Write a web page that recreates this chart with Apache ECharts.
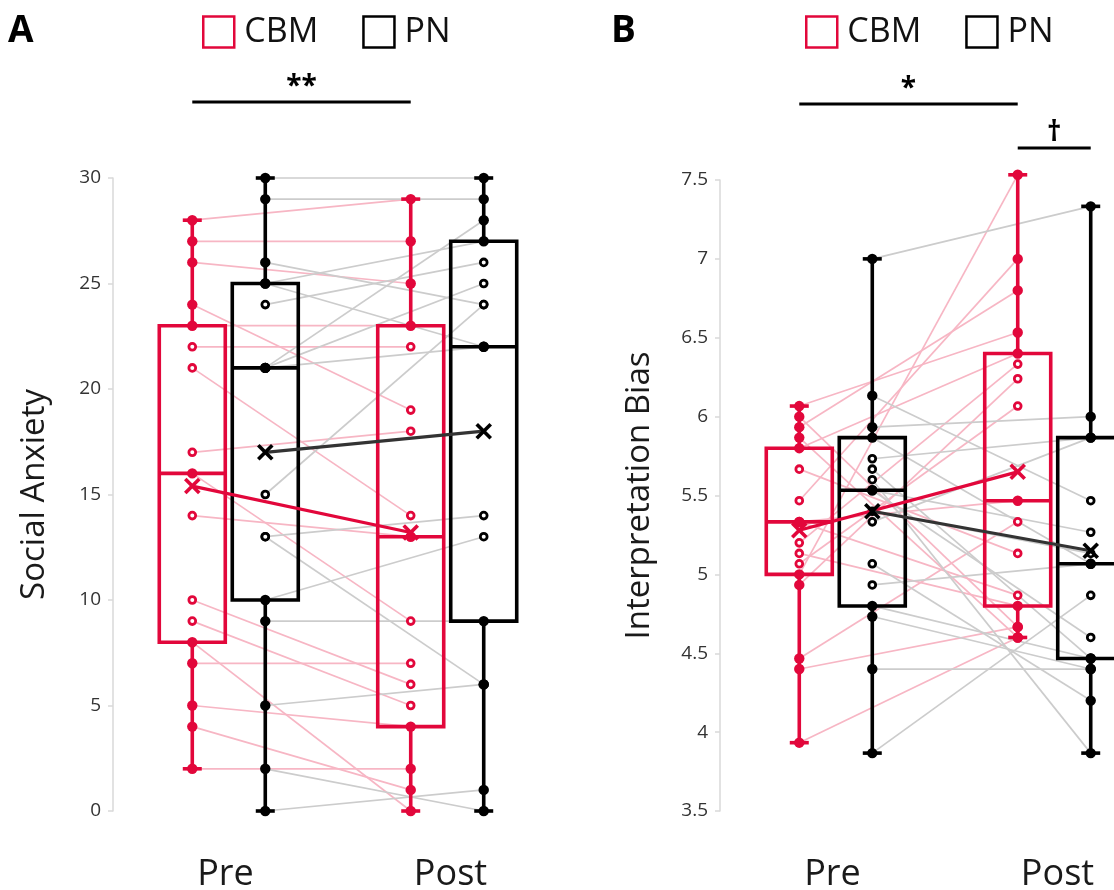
<!DOCTYPE html>
<html><head><meta charset="utf-8">
<script src="https://cdn.jsdelivr.net/npm/echarts@6/dist/echarts.min.js"></script>
<style>html,body{margin:0;padding:0;background:#fff}#c{width:1114px;height:890px}</style>
</head><body><div id="c"></div>
<script>
// ---------- data ----------
const phases = ['Pre', 'Post'];
const groups = ['CBM', 'PN'];

// Panel A: Social Anxiety, one entry per participant (pre, post)
const anxietyCbmPre  = [28,27,26,24,23,22,21,17,16,14,10,9,8,7,5,4,2];
const anxietyCbmPost = [29,27,25,19,23,22,14,18,9,13,6,5,0,7,4,1,2];
const anxietyPnPre   = [30,29,26,25,25,24,21,21,21,15,13,13,10,9,5,2,0];
const anxietyPnPost  = [30,29,24,27,22,26,28,25,22,24,14,6,13,9,6,0,1];
// box statistics [min, Q1, median, Q3, max]
const anxietyCbmBoxPre  = [2,8,16,23,28];
const anxietyCbmBoxPost = [0,4,13,23,29];
const anxietyPnBoxPre   = [0,10,21,25,30];
const anxietyPnBoxPost  = [0,9,22,27,30];
const anxietyCbmMean = [15.4, 13.2];
const anxietyPnMean  = [17.0, 18.0];
const anxietyTicks = {min: 0, max: 30, interval: 5};

// Panel B: Interpretation Bias
const biasCbmPre  = [6.067,6.0,5.933,5.867,5.8,5.667,5.467,5.333,5.333,5.2,5.133,5.067,5.0,4.933,4.467,4.4,3.933];
const biasCbmPost = [6.533,4.667,6.8,4.6,6.4,5.133,7.0,5.467,4.867,6.333,4.8,6.067,7.533,6.24,5.333,4.667,4.6];
const biasPnPre   = [7.0,6.133,5.933,5.867,5.733,5.667,5.6,5.533,5.533,5.4,5.333,5.067,4.933,4.8,4.733,4.4,3.867];
const biasPnPost  = [7.333,5.467,6.0,5.067,5.867,4.467,3.867,5.267,4.6,5.133,5.867,4.2,5.067,4.467,4.4,4.4,4.867];
const biasCbmBoxPre  = [3.933,5.0,5.333,5.8,6.067];
const biasCbmBoxPost = [4.6,4.8,5.467,6.4,7.533];
const biasPnBoxPre   = [3.867,4.8,5.533,5.867,7.0];
const biasPnBoxPost  = [3.867,4.467,5.067,5.867,7.333];
const biasCbmMean = [5.28, 5.65];
const biasPnMean  = [5.40, 5.15];
const biasTicks = {min: 3.5, max: 7.5, interval: 0.5};

// significance annotations: [label, fromGroup, fromPhase, toGroup, toPhase, tier]
const sigA = [['**', 'CBM', 'Pre', 'CBM', 'Post', 0]];
const sigB = [['*', 'CBM', 'Pre', 'CBM', 'Post', 0], ['\u2020', 'CBM', 'Post', 'PN', 'Post', 1]];

// ---------- style ----------
const FONT = 'Open Sans';
const RED = '#e2073b', BLACK = '#000000', PINK = '#f7b6c4', GREY = '#cccccc', DARK = '#333333';
const COLOR = {CBM: RED, PN: BLACK};
const PAIR = {CBM: PINK, PN: GREY};
const MEANLINE = {CBM: RED, PN: DARK};
const OFFSET = {CBM: -36.5, PN: 36.5};
const BOX_HALF = 33, CAP_HALF = 9.5, LW = 3.6;
const TIER_PX = [76, 32];

const panels = [
  {name: 'Social Anxiety', ticks: anxietyTicks,
   CBM: {pre: anxietyCbmPre, post: anxietyCbmPost, box: [anxietyCbmBoxPre, anxietyCbmBoxPost], mean: anxietyCbmMean},
   PN:  {pre: anxietyPnPre,  post: anxietyPnPost,  box: [anxietyPnBoxPre,  anxietyPnBoxPost],  mean: anxietyPnMean},
   sig: sigA},
  {name: 'Interpretation Bias', ticks: biasTicks,
   CBM: {pre: biasCbmPre, post: biasCbmPost, box: [biasCbmBoxPre, biasCbmBoxPost], mean: biasCbmMean},
   PN:  {pre: biasPnPre,  post: biasPnPost,  box: [biasPnBoxPre,  biasPnBoxPost],  mean: biasPnMean},
   sig: sigB}
];

function phaseX(ph) { return phases.indexOf(ph) + 1; }

function buildSeries(p, gi) {
  const ax = {xAxisIndex: gi * 2, yAxisIndex: gi, coordinateSystem: 'cartesian2d', clip: false, silent: true};
  const out = [];
  // paired participant lines
  groups.forEach(g => {
    out.push(Object.assign({type: 'custom', name: g + ' pairs', z: 1,
      data: p[g].pre.map((v, i) => [v, p[g].post[i]]),
      renderItem: (params, api) => {
        const a = api.coord([1, api.value(0)]);
        const b = api.coord([2, api.value(1)]);
        return {type: 'line', shape: {x1: a[0] + OFFSET[g], y1: a[1], x2: b[0] + OFFSET[g], y2: b[1]},
          style: {stroke: PAIR[g], lineWidth: 1.7}};
      }}, ax));
  });
  // boxes
  groups.forEach(g => {
    out.push(Object.assign({type: 'custom', name: g, z: 2,
      itemStyle: {color: COLOR[g]},
      data: p[g].box.map((b, i) => [i + 1].concat(b)),
      renderItem: (params, api) => {
        const x = api.value(0);
        const y = k => api.coord([x, api.value(k)])[1];
        const cx = api.coord([x, 0])[0] + OFFSET[g];
        const yMin = y(1), yQ1 = y(2), yMed = y(3), yQ3 = y(4), yMax = y(5);
        const st = {stroke: COLOR[g], lineWidth: LW, fill: 'none'};
        return {type: 'group', children: [
          {type: 'line', shape: {x1: cx, y1: yQ3, x2: cx, y2: yMax}, style: st},
          {type: 'line', shape: {x1: cx, y1: yQ1, x2: cx, y2: yMin}, style: st},
          {type: 'line', shape: {x1: cx - CAP_HALF, y1: yMax, x2: cx + CAP_HALF, y2: yMax}, style: st},
          {type: 'line', shape: {x1: cx - CAP_HALF, y1: yMin, x2: cx + CAP_HALF, y2: yMin}, style: st},
          {type: 'rect', shape: {x: cx - BOX_HALF, y: yQ3, width: 2 * BOX_HALF, height: yQ1 - yQ3}, style: st},
          {type: 'line', shape: {x1: cx - BOX_HALF, y1: yMed, x2: cx + BOX_HALF, y2: yMed}, style: st}
        ]};
      }}, ax));
  });
  // individual points
  groups.forEach(g => {
    const pts = [];
    [p[g].pre, p[g].post].forEach((arr, i) => {
      const b = p[g].box[i];
      arr.forEach(v => {
        const filled = v <= b[1] + 1e-6 || v >= b[3] - 1e-6 || Math.abs(v - b[2]) < 1e-6;
        pts.push([i + 1, v, filled ? 1 : 0]);
      });
    });
    out.push(Object.assign({type: 'custom', name: g + ' points', z: 3, data: pts,
      renderItem: (params, api) => {
        const c = api.coord([api.value(0), api.value(1)]);
        const cx = c[0] + OFFSET[g];
        if (api.value(2)) {
          return {type: 'circle', shape: {cx: cx, cy: c[1], r: 5.2}, style: {fill: COLOR[g]}};
        }
        return {type: 'circle', shape: {cx: cx, cy: c[1], r: 3.4}, style: {fill: '#fff', stroke: COLOR[g], lineWidth: 2.8}};
      }}, ax));
  });
  // means
  groups.forEach(g => {
    out.push(Object.assign({type: 'custom', name: g + ' mean', z: 4,
      data: [p[g].mean],
      renderItem: (params, api) => {
        const a = api.coord([1, api.value(0)]);
        const b = api.coord([2, api.value(1)]);
        a[0] += OFFSET[g]; b[0] += OFFSET[g];
        const s = 7;
        const cross = (q, col) => [
          {type: 'line', shape: {x1: q[0] - s, y1: q[1] - s, x2: q[0] + s, y2: q[1] + s}, style: {stroke: col, lineWidth: 3.6}},
          {type: 'line', shape: {x1: q[0] - s, y1: q[1] + s, x2: q[0] + s, y2: q[1] - s}, style: {stroke: col, lineWidth: 3.6}}
        ];
        return {type: 'group', children: [
          {type: 'line', shape: {x1: a[0], y1: a[1], x2: b[0], y2: b[1]}, style: {stroke: MEANLINE[g], lineWidth: 3.2}}
        ].concat(cross(a, COLOR[g]), cross(b, COLOR[g]))};
      }}, ax));
  });
  // significance bars, placed a fixed distance above the top of the y axis
  out.push(Object.assign({type: 'custom', name: 'sig', z: 5,
    data: p.sig.map((s, i) => [i, p.ticks.max]),
    renderItem: (params, api) => {
      const s = p.sig[params.dataIndex];
      const topY = api.coord([1, api.value(1)])[1] - TIER_PX[s[5]];
      const a = api.coord([phaseX(s[2]), 0]);
      const b = api.coord([phaseX(s[4]), 0]);
      const x1 = a[0] + OFFSET[s[1]], x2 = b[0] + OFFSET[s[3]];
      return {type: 'group', children: [
        {type: 'line', shape: {x1: x1, y1: topY, x2: x2, y2: topY}, style: {stroke: '#000', lineWidth: 3.2}},
        {type: 'text', x: (x1 + x2) / 2, y: topY - 1, style: {text: s[0], fontSize: 28, fontWeight: 'bold', fontFamily: FONT, fill: '#000', align: 'center', verticalAlign: 'bottom'}}
      ]};
    }}, ax));
  return out;
}

const series = [];
panels.forEach((p, gi) => {
  buildSeries(p, gi).forEach(s => series.push(s));
});

const yAxisBase = (gi, p) => ({
  type: 'value', gridIndex: gi, min: p.ticks.min, max: p.ticks.max, interval: p.ticks.interval,
  name: p.name, nameLocation: 'middle', nameGap: gi === 0 ? 62 : 64,
  nameTextStyle: {fontSize: 33, color: '#1a1a1a', fontFamily: FONT},
  axisLine: {show: true, lineStyle: {color: '#d9d9d9', width: 1.5}},
  axisTick: {show: true, length: 5, lineStyle: {color: '#d9d9d9', width: 1.5}},
  splitLine: {show: false},
  axisLabel: {fontSize: 19, color: '#333', margin: 12, fontFamily: FONT}
});
const catAxis = gi => ({type: 'category', gridIndex: gi, data: phases, position: 'bottom',
  axisLine: {show: false}, axisTick: {show: false}, splitLine: {show: false},
  axisLabel: {fontSize: 36, color: '#1a1a1a', margin: 46, fontFamily: FONT}});
const valX = gi => ({type: 'value', gridIndex: gi, min: 0.47, max: 2.53, show: false, position: 'bottom'});

const legendBase = left => ({
  left: left, top: 10, itemWidth: 31, itemHeight: 31, itemGap: 44, selectedMode: false, orient: 'horizontal',
  textStyle: {fontSize: 34, color: '#111', fontFamily: FONT, padding: [0, 0, 0, 5]},
  data: [
    {name: 'CBM', icon: 'rect', itemStyle: {color: 'rgba(255,255,255,0)', borderColor: RED, borderWidth: 2.5}},
    {name: 'PN', icon: 'rect', itemStyle: {color: 'rgba(255,255,255,0)', borderColor: BLACK, borderWidth: 2.5}}
  ]
});

const chart = echarts.init(document.getElementById('c'), null, {renderer: 'canvas'});
chart.setOption({
  backgroundColor: '#fff',
  animation: false,
  textStyle: {fontFamily: FONT},
  title: [
    {text: 'A', left: 3, top: 8, textStyle: {fontSize: 37, fontWeight: 'bold', color: '#000', fontFamily: FONT}},
    {text: 'B', left: 606, top: 8, textStyle: {fontSize: 37, fontWeight: 'bold', color: '#000', fontFamily: FONT}}
  ],
  legend: [legendBase(197), legendBase(800)],
  grid: [
    {left: 113, top: 178, width: 450, height: 633, outerBoundsMode: 'none'},
    {left: 720, top: 180, width: 450, height: 631, outerBoundsMode: 'none'}
  ],
  xAxis: [valX(0), catAxis(0), valX(1), catAxis(1)],
  yAxis: [yAxisBase(0, panels[0]), yAxisBase(1, panels[1])],
  series: series
});
</script></body></html>
